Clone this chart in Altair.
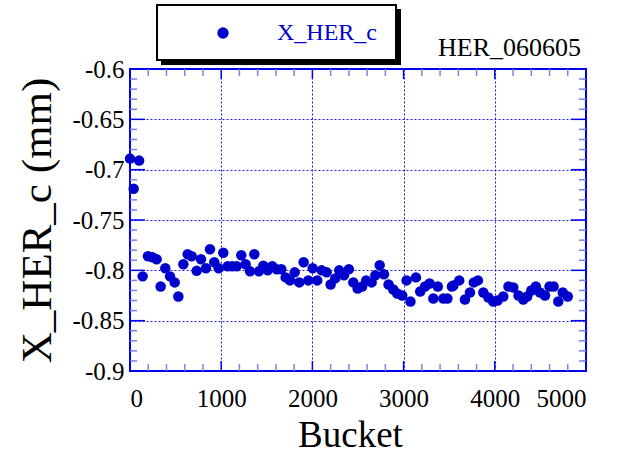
import altair as alt
import pandas as pd

# Beam position X_HER_c versus bucket number
bucket = [0, 40, 100, 139, 197, 245, 292, 336, 387, 439, 490, 530, 585, 632, 676,
          731, 778, 833, 877, 924, 972, 1023, 1071, 1121, 1170, 1220, 1268, 1316,
          1363, 1413, 1462, 1510, 1560, 1608, 1659, 1707, 1754, 1806, 1856, 1904,
          1955, 2003, 2053, 2101, 2156, 2200, 2250, 2294, 2346, 2400, 2448, 2496,
          2545, 2590, 2649, 2690, 2738, 2785, 2835, 2887, 2930, 2985, 3033, 3075,
          3135, 3182, 3235, 3285, 3326, 3375, 3436, 3480, 3530, 3545, 3610, 3673,
          3728, 3770, 3815, 3874, 3930, 3983, 4030, 4093, 4150, 4203, 4260, 4312,
          4355, 4400, 4450, 4496, 4550, 4600, 4645, 4696, 4745, 4800]
x_her_c = [-0.689, -0.719, -0.691, -0.806, -0.786, -0.787, -0.789, -0.816, -0.798,
           -0.806, -0.812, -0.826, -0.794, -0.784, -0.786, -0.8005, -0.789, -0.798,
           -0.779, -0.792, -0.798, -0.7825, -0.796, -0.796, -0.796, -0.785, -0.794,
           -0.801, -0.784, -0.801, -0.7955, -0.800, -0.796, -0.799, -0.799, -0.807,
           -0.810, -0.802, -0.812, -0.792, -0.810, -0.798, -0.810, -0.800, -0.802,
           -0.814, -0.808, -0.800, -0.805, -0.799, -0.812, -0.818, -0.816, -0.810,
           -0.812, -0.805, -0.795, -0.804, -0.814, -0.819, -0.823, -0.825, -0.810,
           -0.831, -0.807, -0.821, -0.816, -0.813, -0.828, -0.816, -0.828, -0.828,
           -0.816, -0.815, -0.810, -0.829, -0.822, -0.812, -0.810, -0.822, -0.827,
           -0.831, -0.830, -0.826, -0.816, -0.817, -0.825, -0.829, -0.826, -0.820,
           -0.816, -0.822, -0.825, -0.816, -0.816, -0.831, -0.822, -0.826]
series_name = "X_HER_c"
run_label = "HER_060605"

x_major = [0, 1000, 2000, 3000, 4000, 5000]
x_minor = [v for v in range(200, 5000, 200) if v % 1000 != 0]
y_major = [-0.9, -0.85, -0.8, -0.75, -0.7, -0.65, -0.6]
y_minor = [round(-0.9 + 0.01 * i, 2) for i in range(1, 30) if i % 5 != 0]

FONT = "Liberation Serif"
BLUE = "#0000cc"
FRAME = "#0000ee"
MINOR = "#7f7ff0"
W, H = 456, 302

xs = alt.Scale(domain=[0, 5000], nice=False, zero=False)
ys = alt.Scale(domain=[-0.9, -0.6], nice=False, zero=False)

df = pd.DataFrame({"Bucket": bucket, "value": x_her_c, "series": series_name})

points = alt.Chart(df).mark_circle(size=110, opacity=1, clip=False).encode(
    x=alt.X("Bucket:Q", scale=xs, title="Bucket",
            axis=alt.Axis(values=x_major, format="d", grid=True, ticks=False,
                          tickSize=0, domain=False, labelPadding=15,
                          titlePadding=6, titleX=220)),
    y=alt.Y("value:Q", scale=ys, title="X_HER_c (mm)",
            axis=alt.Axis(values=y_major, labelExpr="'' + datum.value",
                          grid=True, ticks=False, tickSize=0, domain=False,
                          labelPadding=6, titlePadding=12, titleFontSize=43)),
    color=alt.Color("series:N",
                    scale=alt.Scale(domain=[series_name], range=[BLUE]),
                    legend=alt.Legend(title=None, orient="none", legendX=81,
                                      legendY=-48, symbolType="circle",
                                      symbolSize=130, symbolStrokeWidth=0,
                                      labelColor=BLUE, labelFont=FONT,
                                      labelFontSize=24, labelOffset=42,
                                      padding=0)),
)

# Inward ticks on all four sides of the frame
def yticks(values, length, color):
    d = pd.DataFrame({"v": values})
    left = alt.Chart(d).mark_rule(color=color, strokeWidth=1.5).encode(
        y=alt.Y("v:Q", scale=ys), x=alt.value(0), x2=alt.value(length))
    right = alt.Chart(d).mark_rule(color=color, strokeWidth=1.5).encode(
        y=alt.Y("v:Q", scale=ys), x=alt.value(W - length), x2=alt.value(W))
    return [left, right]


def xticks(values, length, color):
    d = pd.DataFrame({"v": values})
    bottom = alt.Chart(d).mark_rule(color=color, strokeWidth=1.5).encode(
        x=alt.X("v:Q", scale=xs), y=alt.value(H - length), y2=alt.value(H))
    top = alt.Chart(d).mark_rule(color=color, strokeWidth=1.5).encode(
        x=alt.X("v:Q", scale=xs), y=alt.value(0), y2=alt.value(length))
    return [bottom, top]


tick_layers = (yticks(y_major, 15, FRAME) + yticks(y_minor, 7, MINOR)
               + xticks(x_major, 10, FRAME) + xticks(x_minor, 7, MINOR))

one = pd.DataFrame({"k": [0]})
shadow = alt.Chart(one).mark_rect(color="black").encode(
    x=alt.value(31), x2=alt.value(271), y=alt.value(-60), y2=alt.value(-4))
box = alt.Chart(one).mark_rect(fill="white", stroke="black", strokeWidth=2).encode(
    x=alt.value(27), x2=alt.value(266), y=alt.value(-64), y2=alt.value(-9))
label = alt.Chart(pd.DataFrame({"t": [run_label]})).mark_text(
    font=FONT, fontSize=26, color="black", align="left", baseline="alphabetic"
).encode(text="t:N", x=alt.value(308), y=alt.value(-13))

chart = alt.layer(*tick_layers, shadow, box, label, points).properties(
    width=W, height=H,
    autosize=alt.AutoSizeParams(type="none"),
    padding={"left": 130, "top": 69, "right": 35, "bottom": 85},
    background="white",
).configure_view(
    stroke=FRAME, strokeWidth=2
).configure_axis(
    labelFont=FONT, labelFontSize=25, labelColor="black",
    titleFont=FONT, titleFontSize=37, titleFontWeight="normal", titleColor="black",
    gridColor=FRAME, gridDash=[2, 2], gridWidth=1, gridOpacity=0.9,
)

chart.save("out.html", embed_options={"renderer": "svg", "actions": False})
